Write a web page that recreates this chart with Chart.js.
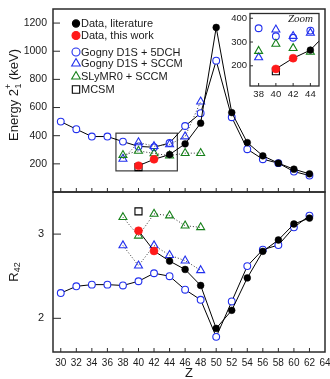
<!DOCTYPE html>
<html>
<head>
<meta charset="utf-8">
<script src="https://cdn.jsdelivr.net/npm/chart.js@4.4.1/dist/chart.umd.min.js"></script>
<style>
  html, body { margin: 0; padding: 0; background: #fff; }
  #wrap { position: relative; width: 330px; height: 379px; overflow: hidden; background: #fff; }
  canvas { position: absolute; }
</style>
</head>
<body>
<div id="wrap">
  <canvas id="bottomChart" width="330" height="193" style="left:0;top:186px;width:330px;height:193px"></canvas>
  <canvas id="topChart" width="330" height="194" style="left:0;top:0;width:330px;height:194px"></canvas>
  <canvas id="insetChart" width="104" height="98" style="left:222px;top:4px;width:104px;height:98px"></canvas>
</div>
<script>
// ---- data ----
const Z_5DCH = [30, 32, 34, 36, 38, 40, 42, 44, 46, 48, 50, 52, 54, 56, 58, 60, 62];
const E_5DCH = [500, 446, 394, 394, 358, 324, 318, 348, 469, 560, 933, 531, 304, 233, 205, 145, 117];
const R_5DCH = [2.30, 2.38, 2.40, 2.40, 2.39, 2.44, 2.535, 2.50, 2.34, 2.22, 1.78, 2.20, 2.62, 2.815, 2.87, 3.08, 3.22];

const Z_LIT = [44, 46, 48, 50, 52, 54, 56, 58, 60, 62];
const E_LIT = [266, 342, 489, 1169, 564, 351, 257, 205, 162, 129];
const R_LIT = [2.68, 2.58, 2.39, 1.88, 2.095, 2.48, 2.795, 2.93, 3.12, 3.19];

const Z_WORK = [40, 42];
const E_WORK = [187, 232];
const R_WORK = [3.04, 2.80];

const Z_SCCM = [38, 40, 42, 44, 46, 48];
const E_D1S_SCCM = [235, 352, 325, 338, 394, 642];
const R_D1S_SCCM = [2.865, 2.625, 2.865, 2.75, 2.685, 2.57];
const E_SLY_SCCM = [262, 292, 274, 258, 276, 276];
const R_SLY_SCCM = [3.20, 2.98, 3.24, 3.22, 3.10, 3.08];

const Z_MCSM = [40];
const E_MCSM = [177];
const R_MCSM = [3.27];

const SERIES_NAMES = ['Data, literature', 'Data, this work', 'Gogny D1S + 5DCH', 'Gogny D1S + SCCM', 'SLyMR0 + SCCM', 'MCSM'];

const Z_TICKS = [30, 32, 34, 36, 38, 40, 42, 44, 46, 48, 50, 52, 54, 56, 58, 60, 62, 64];
const E_TICKS = [200, 400, 600, 800, 1000, 1200];
const R_TICKS = [2, 3];
const INSET_Z_TICKS = [38, 40, 42, 44];
const INSET_E_TICKS = [200, 300, 400];
const ZOOM_BOX = { z: [37.1, 45], e: [150, 418] };

// ---- styles ----
const FONT = "'Liberation Sans', Arial, sans-serif";
const TEXT = '#1a1a1a';
const BLUE = '#2230ee';
const GREEN = '#16801a';
const RED = '#ff1a1a';
const FRAME = '#2b2b2b';

Chart.defaults.font.family = FONT;
Chart.defaults.color = TEXT;

function pts(xs, ys) {
  return xs.map((x, i) => ({ x: x, y: ys[i] }));
}

function datasets(E, withTheoryLines) {
  return [
    { data: pts(Z_WORK, E.work), showLine: false, pointStyle: 'circle', pointRadius: 4,
      pointBackgroundColor: RED, pointBorderColor: RED, pointBorderWidth: 0.5, order: 0 },
    { data: pts(Z_LIT, E.lit), showLine: false, pointStyle: 'circle', pointRadius: 3.4,
      pointBackgroundColor: '#000', pointBorderColor: '#000', pointBorderWidth: 0.5, order: 1 },
    // solid line joining this work and literature points
    { data: pts(Z_WORK.concat(Z_LIT), E.work.concat(E.lit)), showLine: true, pointRadius: 0,
      borderColor: '#000', borderWidth: 1, order: 2 },
    { data: pts(Z_MCSM, E.mcsm), showLine: false, pointStyle: 'rect', pointRadius: 5,
      pointBackgroundColor: 'rgba(0,0,0,0)', pointBorderColor: '#000', pointBorderWidth: 1.1, order: 3 },
    { data: pts(Z_SCCM, E.sly), showLine: withTheoryLines, pointStyle: 'triangle', pointRadius: 4.6,
      pointBackgroundColor: 'rgba(0,0,0,0)', pointBorderColor: GREEN, pointBorderWidth: 1.1,
      borderColor: '#333', borderWidth: 1, borderDash: [1, 2], order: 4 },
    { data: pts(Z_SCCM, E.d1s), showLine: withTheoryLines, pointStyle: 'triangle', pointRadius: 4.6,
      pointBackgroundColor: 'rgba(0,0,0,0)', pointBorderColor: BLUE, pointBorderWidth: 1.1,
      borderColor: '#333', borderWidth: 1, borderDash: [1, 2], order: 5 },
    { data: pts(Z_5DCH, E.dch), showLine: withTheoryLines, pointStyle: 'circle', pointRadius: 3.4,
      pointBackgroundColor: '#fff', pointBorderColor: BLUE, pointBorderWidth: 1.1,
      borderColor: '#000', borderWidth: 1, order: 6 }
  ];
}

function fixedTicks(list) {
  return function (scale) { scale.ticks = list.map(v => ({ value: v })); };
}

// force exact axis size and drop the label overhang padding
function fitTo(prop, size) {
  return function (scale) {
    scale[prop] = size;
    scale.paddingTop = 0;
    scale.paddingBottom = 0;
    scale.paddingLeft = 0;
    scale.paddingRight = 0;
  };
}

function decor(cfg) {
  return {
    id: 'decor',
    beforeDatasetsDraw(chart) {
      const { ctx, chartArea: a, scales } = chart;
      if (cfg.whiteArea) {
        ctx.save();
        ctx.fillStyle = '#fff';
        ctx.fillRect(a.left, a.top, a.right - a.left, a.bottom - a.top);
        ctx.restore();
      }
      if (cfg.box) {
        const x0 = scales.x.getPixelForValue(cfg.box.z[0]);
        const x1 = scales.x.getPixelForValue(cfg.box.z[1]);
        const y0 = scales.y.getPixelForValue(cfg.box.e[1]);
        const y1 = scales.y.getPixelForValue(cfg.box.e[0]);
        ctx.save();
        ctx.strokeStyle = '#3a3a3a';
        ctx.lineWidth = 1.2;
        ctx.strokeRect(x0, y0, x1 - x0, y1 - y0);
        ctx.restore();
      }
    },
    afterDraw(chart) {
      const { ctx, chartArea: a, scales } = chart;
      ctx.save();
      ctx.strokeStyle = FRAME;
      ctx.lineWidth = cfg.frameWidth || 1.5;
      ctx.strokeRect(a.left, a.top, a.right - a.left, a.bottom - a.top);
      ctx.lineWidth = 1;
      (cfg.xTicks || []).forEach(v => {
        const x = scales.x.getPixelForValue(v);
        if (x > a.right - 1) return;
        ctx.beginPath();
        ctx.moveTo(x, a.bottom);
        ctx.lineTo(x, a.bottom - cfg.xTickLen);
        ctx.stroke();
      });
      (cfg.yTicks || []).forEach(v => {
        const y = scales.y.getPixelForValue(v);
        ctx.beginPath();
        ctx.moveTo(a.left, y);
        ctx.lineTo(a.left + cfg.yTickLen, y);
        ctx.stroke();
      });
      ctx.restore();
      if (cfg.extra) cfg.extra(ctx, a);
    }
  };
}

function drawLegend(ctx) {
  const x = 76, tx = 81;
  const rows = [23.5, 35.5, 52, 63.5, 76.5, 89.5];
  const marks = [
    { style: 'circle', r: 3.6, fill: '#000', stroke: '#000' },
    { style: 'circle', r: 4, fill: RED, stroke: RED },
    { style: 'circle', r: 4, fill: 'rgba(0,0,0,0)', stroke: BLUE },
    { style: 'triangle', r: 5, fill: 'rgba(0,0,0,0)', stroke: BLUE },
    { style: 'triangle', r: 5, fill: 'rgba(0,0,0,0)', stroke: GREEN },
    { style: 'rect', r: 5.2, fill: 'rgba(0,0,0,0)', stroke: '#000' }
  ];
  ctx.save();
  ctx.font = '11px ' + FONT;
  ctx.textBaseline = 'middle';
  ctx.textAlign = 'left';
  SERIES_NAMES.forEach((name, i) => {
    const m = marks[i];
    ctx.fillStyle = m.fill;
    ctx.strokeStyle = m.stroke;
    ctx.lineWidth = 1.1;
    Chart.helpers.drawPoint(ctx, { pointStyle: m.style, radius: m.r, rotation: 0, borderWidth: 1.1 }, x, rows[i]);
    ctx.fillStyle = TEXT;
    ctx.fillText(name, tx, rows[i] + 0.5);
  });
  ctx.restore();
}

function drawEnergyTitle(ctx) {
  ctx.save();
  ctx.translate(14, 95);
  ctx.rotate(-Math.PI / 2);
  const big = '13px ' + FONT, small = '9px ' + FONT;
  ctx.font = big;
  const w1 = ctx.measureText('Energy 2').width;
  const w3 = ctx.measureText(' (keV)').width;
  ctx.font = small;
  const w2 = ctx.measureText('+').width;
  let x = -(w1 + w2 + w3) / 2;
  ctx.fillStyle = TEXT;
  ctx.textBaseline = 'middle';
  ctx.textAlign = 'left';
  ctx.font = big;
  ctx.fillText('Energy 2', x, 0);
  x += w1;
  ctx.font = small;
  ctx.fillText('+', x, -5);
  ctx.fillText('1', x + 0.5, 5);
  x += w2;
  ctx.font = big;
  ctx.fillText(' (keV)', x, 0);
  ctx.restore();
}

function drawRTitle(ctx, a) {
  ctx.save();
  ctx.translate(14, (a.top + a.bottom) / 2);
  ctx.rotate(-Math.PI / 2);
  ctx.fillStyle = TEXT;
  ctx.textBaseline = 'middle';
  ctx.textAlign = 'left';
  ctx.font = '13px ' + FONT;
  const w1 = ctx.measureText('R').width;
  ctx.font = '9px ' + FONT;
  const w2 = ctx.measureText('42').width;
  let x = -(w1 + w2) / 2;
  ctx.font = '13px ' + FONT;
  ctx.fillText('R', x, 0);
  ctx.font = '9px ' + FONT;
  ctx.fillText('42', x + w1, 4);
  ctx.restore();
  ctx.save();
  ctx.fillStyle = TEXT;
  ctx.font = '13px ' + FONT;
  ctx.textAlign = 'center';
  ctx.textBaseline = 'middle';
  ctx.fillText('Z', (a.left + a.right) / 2, 187);
  ctx.restore();
}

const energy = { work: E_WORK, lit: E_LIT, mcsm: E_MCSM, sly: E_SLY_SCCM, d1s: E_D1S_SCCM, dch: E_5DCH };
const ratio = { work: R_WORK, lit: R_LIT, mcsm: R_MCSM, sly: R_SLY_SCCM, d1s: R_D1S_SCCM, dch: R_5DCH };

const common = {
  responsive: false,
  animation: false,
  devicePixelRatio: 1,
  events: [],
  plugins: { legend: { display: false }, tooltip: { enabled: false } }
};

const plainLabel = v => String(v);

// Top panel: 2+ energies
new Chart(document.getElementById('topChart'), {
  type: 'scatter',
  data: { datasets: datasets(energy, true) },
  options: Object.assign({}, common, {
    layout: { autoPadding: false, padding: { left: 0, right: 5, top: 9, bottom: 2 } },
    scales: {
      x: {
        type: 'linear', min: 29, max: 64,
        grid: { display: false, drawTicks: false }, border: { display: false },
        ticks: { display: false },
        afterFit: fitTo('height', 0)
      },
      y: {
        type: 'linear', min: 0, max: 1300,
        grid: { display: false, drawTicks: false }, border: { display: false },
        ticks: { font: { size: 10.5 }, padding: 6, color: TEXT, callback: plainLabel },
        afterBuildTicks: fixedTicks(E_TICKS),
        afterFit: fitTo('width', 53)
      }
    }
  }),
  plugins: [decor({
    xTicks: Z_TICKS, xTickLen: 4, yTicks: E_TICKS, yTickLen: 7, box: ZOOM_BOX,
    extra: ctx => { drawLegend(ctx); drawEnergyTitle(ctx); }
  })]
});

// Bottom panel: R42
new Chart(document.getElementById('bottomChart'), {
  type: 'scatter',
  data: { datasets: datasets(ratio, true) },
  options: Object.assign({}, common, {
    layout: { autoPadding: false, padding: { left: 0, right: 5, top: 6, bottom: 0 } },
    scales: {
      x: {
        type: 'linear', min: 29, max: 64,
        grid: { display: false, drawTicks: false }, border: { display: false },
        ticks: { font: { size: 10 }, padding: 5, autoSkip: false, maxRotation: 0, color: TEXT, callback: plainLabel },
        afterBuildTicks: fixedTicks(Z_TICKS),
        afterFit: fitTo('height', 27)
      },
      y: {
        type: 'linear', min: 1.6, max: 3.5,
        grid: { display: false, drawTicks: false }, border: { display: false },
        ticks: { font: { size: 11 }, padding: 9, color: TEXT, callback: plainLabel },
        afterBuildTicks: fixedTicks(R_TICKS),
        afterFit: fitTo('width', 53)
      }
    }
  }),
  plugins: [decor({
    xTicks: Z_TICKS, xTickLen: 4, yTicks: R_TICKS, yTickLen: 8,
    extra: drawRTitle
  })]
});

// Inset: zoom on Z = 38-44
new Chart(document.getElementById('insetChart'), {
  type: 'scatter',
  data: { datasets: datasets(energy, false) },
  options: Object.assign({}, common, {
    layout: { autoPadding: false, padding: { left: 0, right: 7, top: 9.5, bottom: 0 } },
    scales: {
      x: {
        type: 'linear', min: 37, max: 45,
        grid: { display: false, drawTicks: false }, border: { display: false },
        ticks: { font: { size: 9.5 }, padding: 3, autoSkip: false, maxRotation: 0, color: TEXT, callback: plainLabel },
        afterBuildTicks: fixedTicks(INSET_Z_TICKS),
        afterFit: fitTo('height', 16)
      },
      y: {
        type: 'linear', min: 115, max: 420,
        grid: { display: false, drawTicks: false }, border: { display: false },
        ticks: { font: { size: 9.5 }, padding: 3, color: TEXT, callback: plainLabel },
        afterBuildTicks: fixedTicks(INSET_E_TICKS),
        afterFit: fitTo('width', 28)
      }
    }
  }),
  plugins: [decor({
    whiteArea: true, frameWidth: 1.3,
    xTicks: INSET_Z_TICKS, xTickLen: 3, yTicks: INSET_E_TICKS, yTickLen: 3,
    extra: (ctx, a) => {
      ctx.save();
      ctx.fillStyle = TEXT;
      ctx.font = "italic 11px 'Liberation Serif', 'Times New Roman', serif";
      ctx.textAlign = 'right';
      ctx.textBaseline = 'middle';
      ctx.fillText('Zoom', a.right - 6, a.top + 6);
      ctx.restore();
    }
  })]
});
</script>
</body>
</html>
